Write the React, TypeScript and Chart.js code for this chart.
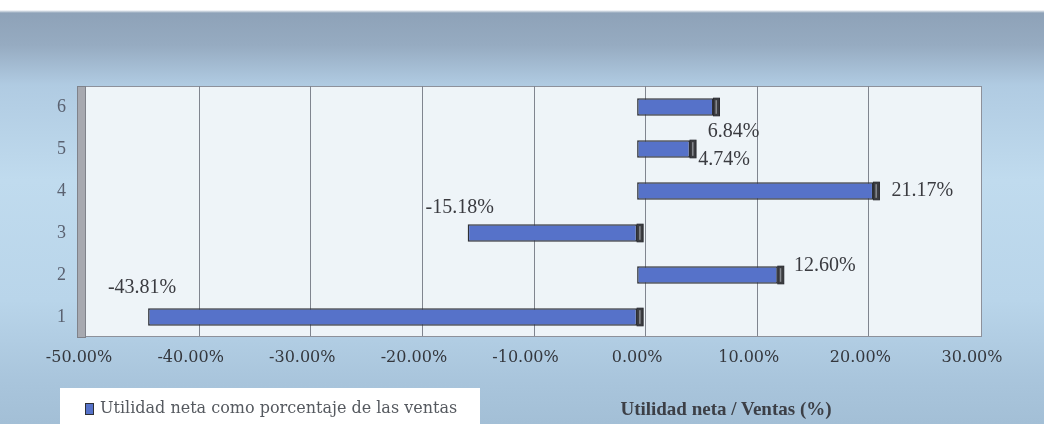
import React, { useEffect, useRef } from "react";
import { Chart, registerables } from "chart.js";

Chart.register(...registerables);

const categories = ["1", "2", "3", "4", "5", "6"];
const values = [-43.81, 12.6, -15.18, 21.17, 4.74, 6.84];
const seriesName = "Utilidad neta como porcentaje de las ventas";
const axisTitle = "Utilidad neta / Ventas (%)";
const xMin = -50;
const xMax = 30;
const xStep = 10;

// label placement offsets (pixels) relative to the bar's outer end (incl. depth cap)
const labelOffsets = [
  { dx: -6, dy: -29 },
  { dx: 41, dy: -9 },
  { dx: -8, dy: -25 },
  { dx: 43, dy: 0 },
  { dx: 28, dy: 11 },
  { dx: 14, dy: 25 },
];

const SERIF = "'Liberation Serif', 'DejaVu Serif', serif";
const WIDE_SERIF = "'DejaVu Serif', 'Liberation Serif', serif";
const DEPTH = 8;
const CAP = 6;

const decor = {
  id: "decor",
  beforeDraw(chart: any) {
    const { ctx, chartArea: a } = chart;
    const x = chart.scales.x;
    ctx.save();
    // back wall
    const wl = a.left + 6;
    const wr = a.right + DEPTH + 1;
    const wt = a.top;
    const wb = a.bottom - 2;
    ctx.fillStyle = "#eef4f8";
    ctx.fillRect(wl, wt, wr - wl, wb - wt);
    ctx.strokeStyle = "#8d919b";
    ctx.lineWidth = 1;
    ctx.strokeRect(wl + 0.5, wt + 0.5, wr - wl, wb - wt);
    // gridlines on back wall
    ctx.strokeStyle = "#80858f";
    x.ticks.forEach((t: any) => {
      if (t.value <= xMin || t.value >= xMax) return;
      const px = Math.round(x.getPixelForValue(t.value) + DEPTH) + 0.5;
      ctx.beginPath();
      ctx.moveTo(px, wt);
      ctx.lineTo(px, wb);
      ctx.stroke();
    });
    // left side wall
    ctx.fillStyle = "#a7a9b0";
    ctx.fillRect(a.left - 2, wt, 8, wb - wt + 2);
    ctx.strokeStyle = "#7f828a";
    ctx.strokeRect(a.left - 1.5, wt + 0.5, 8, wb - wt + 1);
    ctx.restore();
  },
  afterDatasetsDraw(chart: any) {
    const { ctx } = chart;
    const meta = chart.getDatasetMeta(0);
    ctx.save();
    meta.data.forEach((bar: any, i: number) => {
      const v = values[i];
      const right = Math.max(bar.x, bar.base);
      const h = bar.height;
      const top = bar.y - h / 2;
      // dark end cap (3D depth), beyond the bar's right end
      ctx.fillStyle = "#3b3c40";
      ctx.fillRect(right, top, CAP, h);
      ctx.fillStyle = "#878a90";
      ctx.fillRect(right + 2, top + 2, 1.5, h - 4);
      ctx.strokeStyle = "#2a2b30";
      ctx.lineWidth = 1;
      ctx.strokeRect(right, top, CAP, h);
      // data label
      const off = labelOffsets[i];
      const endX = v >= 0 ? bar.x + CAP : bar.x;
      ctx.font = `20px ${SERIF}`;
      ctx.fillStyle = "#3a3b40";
      ctx.textAlign = "center";
      ctx.textBaseline = "middle";
      ctx.fillText(v.toFixed(2) + "%", endX + off.dx, bar.y + off.dy);
    });
    ctx.restore();
  },
};

export default function App() {
  const ref = useRef<HTMLCanvasElement | null>(null);
  useEffect(() => {
    document.body.style.margin = "0";
    const chart = new Chart(ref.current as HTMLCanvasElement, {
      type: "bar",
      data: {
        labels: categories,
        datasets: [
          {
            label: seriesName,
            data: values,
            backgroundColor: "#5672c9",
            borderColor: "#2e3036",
            borderWidth: 1.5,
            borderSkipped: false,
            barPercentage: 0.42,
            categoryPercentage: 1,
          },
        ],
      },
      options: {
        indexAxis: "y",
        animation: false,
        responsive: false,
        layout: { padding: { top: 86, right: 72, left: 0, bottom: 0 } },
        plugins: {
          legend: { display: false },
          tooltip: { enabled: false },
        },
        scales: {
          x: {
            min: xMin,
            max: xMax,
            ticks: {
              stepSize: xStep,
              padding: 10,
              color: "#34373d",
              font: { family: WIDE_SERIF, size: 16 },
              callback: (v: any) => Number(v).toFixed(2) + "%",
            },
            grid: { display: false, drawTicks: false },
            border: { display: false },
            afterFit: (s: any) => {
              s.height = 86;
            },
          },
          y: {
            reverse: true,
            ticks: {
              padding: 13,
              color: "#5a6170",
              font: { family: SERIF, size: 18 },
            },
            grid: { display: false, drawTicks: false },
            border: { display: false },
            afterFit: (s: any) => {
              s.width = 79;
            },
          },
        },
      },
      plugins: [decor],
    });
    return () => chart.destroy();
  }, []);

  return (
    <div
      style={{
        position: "absolute",
        left: 0,
        top: 0,
        width: 1044,
        height: 424,
        overflow: "hidden",
        background:
          "linear-gradient(to bottom, #ffffff 0px, #ffffff 10px, #8ea2b8 13px, #96abc1 45px, #b0cbe2 85px, #c0dbee 180px, #b9d5ea 300px, #a9c5dc 380px, #a3bfd6 424px)",
      }}
    >
      <canvas ref={ref} width={1044} height={424} style={{ position: "absolute", left: 0, top: 0 }} />
      <div
        style={{
          position: "absolute",
          left: 60,
          top: 388,
          width: 420,
          height: 40,
          background: "#ffffff",
          fontFamily: WIDE_SERIF,
          fontSize: 16,
          color: "#55595f",
          boxSizing: "border-box",
        }}
      >
        <span
          style={{
            position: "absolute",
            left: 25,
            top: 15,
            width: 7,
            height: 10,
            background: "#5672c9",
            border: "1px solid #2e3036",
          }}
        />
        <span style={{ position: "absolute", left: 40, top: 10, whiteSpace: "nowrap" }}>{seriesName}</span>
      </div>
      <div
        style={{
          position: "absolute",
          left: 576,
          top: 398,
          width: 300,
          textAlign: "center",
          fontFamily: SERIF,
          fontSize: 19,
          fontWeight: "bold",
          color: "#3c3f46",
        }}
      >
        {axisTitle}
      </div>
    </div>
  );
}
